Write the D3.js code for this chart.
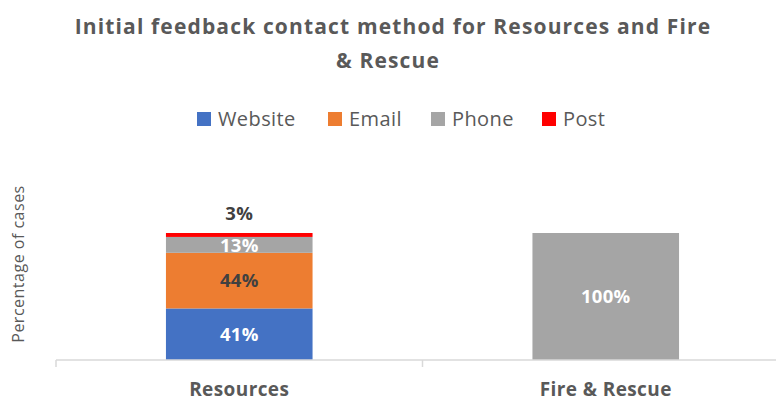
<!DOCTYPE html>
<html>
<head>
<meta charset="utf-8">
<script src="https://cdn.jsdelivr.net/npm/d3@7"></script>
<style>
  body { margin: 0; background: #fff; }
  text { font-family: "Open Sans", sans-serif; }
</style>
</head>
<body>
<div id="vis1"></div>
<script>
const FRAME_WIDTH = 776;
const FRAME_HEIGHT = 401;
const MARGINS = {left: 56, right: -13, top: 233, bottom: 41};

// data
const categories = ["Resources", "Fire & Rescue"];
const seriesNames = ["Website", "Email", "Phone", "Post"];
const website = [40.6, 0];
const email = [43.8, 0];
const phone = [12.5, 100];
const post = [3.1, 0];
const colors = ["#4472c4", "#ed7d31", "#a5a5a5", "#ff0000"];
const labelColors = ["#ffffff", "#404040", "#ffffff", "#404040"];

const FRAME = d3.select("#vis1")
    .append("svg")
    .attr("width", FRAME_WIDTH)
    .attr("height", FRAME_HEIGHT);

const table = categories.map((c, i) => ({
    category: c,
    Website: website[i],
    Email: email[i],
    Phone: phone[i],
    Post: post[i]
}));

const stack = d3.stack().keys(seriesNames)(table);

const X_SCALE = d3.scaleBand()
    .domain(categories)
    .range([MARGINS.left, FRAME_WIDTH - MARGINS.right])
    .padding(0);

const Y_SCALE = d3.scaleLinear()
    .domain([0, 100])
    .range([FRAME_HEIGHT - MARGINS.bottom, MARGINS.top]);

const BAR_W = X_SCALE.bandwidth() * 0.4;

// title
FRAME.append("text")
    .attr("x", 393).attr("y", 34)
    .attr("text-anchor", "middle")
    .attr("font-size", 21).attr("font-weight", "bold")
    .attr("letter-spacing", 1.15)
    .attr("fill", "#595959")
    .text("Initial feedback contact method for Resources and Fire");
FRAME.append("text")
    .attr("x", 388).attr("y", 68)
    .attr("text-anchor", "middle")
    .attr("font-size", 21).attr("font-weight", "bold")
    .attr("letter-spacing", 1.15)
    .attr("fill", "#595959")
    .text("& Rescue");

// legend
const legendX = [197, 328, 431, 542];
const legend = FRAME.selectAll(".legend")
    .data(seriesNames)
    .enter()
    .append("g")
    .attr("transform", (d, i) => "translate(" + legendX[i] + ",111)");
legend.append("rect")
    .attr("y", 1)
    .attr("width", 14).attr("height", 14)
    .attr("fill", (d, i) => colors[i]);
legend.append("text")
    .attr("x", 21).attr("y", 15)
    .attr("font-size", 20)
    .attr("letter-spacing", 0.4)
    .attr("fill", "#595959")
    .text(d => d);

// bars
const layers = FRAME.selectAll(".layer")
    .data(stack)
    .enter()
    .append("g")
    .attr("fill", (d, i) => colors[i]);

layers.selectAll("rect")
    .data(d => d.filter(p => p[1] - p[0] > 0))
    .enter()
    .append("rect")
    .attr("x", d => X_SCALE(d.data.category) + (X_SCALE.bandwidth() - BAR_W) / 2)
    .attr("y", d => Y_SCALE(d[1]))
    .attr("width", BAR_W)
    .attr("height", d => Y_SCALE(d[0]) - Y_SCALE(d[1]));

// value labels
stack.forEach((layer, si) => {
    layer.forEach(p => {
        const v = p[1] - p[0];
        if (v <= 0) return;
        const cx = X_SCALE(p.data.category) + X_SCALE.bandwidth() / 2;
        const small = v < 5;
        const cy = small ? Y_SCALE(p[1]) - 20 : (Y_SCALE(p[0]) + Y_SCALE(p[1])) / 2;
        FRAME.append("text")
            .attr("x", cx).attr("y", cy)
            .attr("dy", "0.36em")
            .attr("text-anchor", "middle")
            .attr("font-size", 18.5).attr("font-weight", "bold")
            .attr("letter-spacing", 0.3)
            .attr("fill", labelColors[si])
            .text(Math.round(v) + "%");
    });
});

// x axis
const baseY = Y_SCALE(0);
FRAME.append("line")
    .attr("x1", MARGINS.left).attr("x2", FRAME_WIDTH)
    .attr("y1", baseY).attr("y2", baseY)
    .attr("stroke", "#d9d9d9").attr("stroke-width", 1.5);
categories.forEach(c => {
    FRAME.append("line")
        .attr("x1", X_SCALE(c)).attr("x2", X_SCALE(c))
        .attr("y1", baseY).attr("y2", baseY + 7)
        .attr("stroke", "#d9d9d9").attr("stroke-width", 1.5);
    FRAME.append("text")
        .attr("x", X_SCALE(c) + X_SCALE.bandwidth() / 2)
        .attr("y", 396)
        .attr("text-anchor", "middle")
        .attr("font-size", 19).attr("font-weight", "bold")
        .attr("letter-spacing", 0.4)
        .attr("fill", "#595959")
        .text(c);
});

// y label
FRAME.append("text")
    .attr("transform", "translate(24,264) rotate(-90)")
    .attr("text-anchor", "middle")
    .attr("font-size", 16)
    .attr("letter-spacing", 0.5)
    .attr("fill", "#595959")
    .text("Percentage of cases");
</script>
</body>
</html>
